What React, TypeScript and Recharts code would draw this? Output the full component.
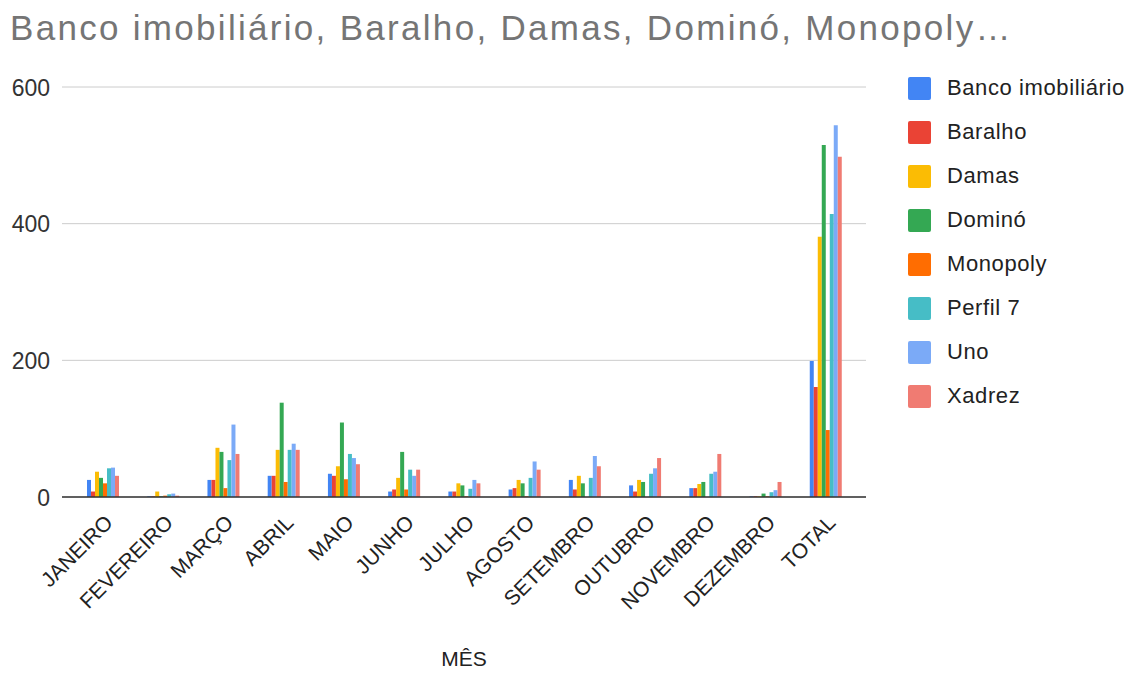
import React from 'react';
import {
  BarChart,
  Bar,
  XAxis,
  YAxis,
  CartesianGrid,
  Legend,
} from 'recharts';

const MONTHS = [
  'JANEIRO', 'FEVEREIRO', 'MARÇO', 'ABRIL', 'MAIO', 'JUNHO', 'JULHO',
  'AGOSTO', 'SETEMBRO', 'OUTUBRO', 'NOVEMBRO', 'DEZEMBRO', 'TOTAL',
];

const SERIES = [
  'Banco imobiliário', 'Baralho', 'Damas', 'Dominó',
  'Monopoly', 'Perfil 7', 'Uno', 'Xadrez',
];

const COLORS = [
  '#4285F4', '#EA4335', '#FBBC04', '#34A853',
  '#FF6D01', '#46BDC6', '#7BAAF7', '#F07B72',
];

// one array per series, month order, last value is TOTAL
const banco = [25, 1, 25, 31, 34, 8, 8, 11, 25, 17, 13, 1, 199];
const baralho = [8, 1, 25, 31, 31, 11, 8, 13, 11, 8, 13, 1, 161];
const damas = [37, 8, 72, 69, 45, 28, 20, 25, 31, 25, 19, 1, 381];
const domino = [28, 1, 66, 138, 109, 66, 17, 20, 20, 22, 22, 5, 515];
const monopoly = [20, 2, 13, 22, 26, 11, 1, 1, 0, 0, 0, 1, 98];
const perfil = [42, 4, 54, 69, 63, 40, 12, 28, 28, 34, 34, 7, 414];
const uno = [43, 5, 106, 78, 57, 31, 25, 52, 60, 42, 37, 10, 544];
const xadrez = [31, 2, 63, 69, 48, 40, 20, 40, 45, 57, 63, 22, 498];

const Y_TICKS = [0, 200, 400, 600];

const VALUES = [banco, baralho, damas, domino, monopoly, perfil, uno, xadrez];

const data = MONTHS.map((m, i) => {
  const row: Record<string, string | number> = { mes: m };
  SERIES.forEach((s, j) => {
    row[s] = VALUES[j][i];
  });
  return row;
});

const FONT = '"Liberation Sans", Arial, sans-serif';

function XTick(props: any) {
  const { x, payload } = props;
  const ax = x + 11;
  const ay = 524;
  return (
    <text
      x={ax}
      y={ay}
      textAnchor="end"
      fontSize={21}
      fontFamily={FONT}
      fill="#222"
      transform={`rotate(-45, ${ax}, ${ay})`}
    >
      {payload.value}
    </text>
  );
}

function YTick(props: any) {
  const { y, payload } = props;
  return (
    <text x={50} y={y + 8.5} textAnchor="end" fontSize={23} fontFamily={FONT} fill="#333">
      {payload.value}
    </text>
  );
}

function LegendBox() {
  return (
    <div style={{ fontFamily: FONT }}>
      {SERIES.map((s, i) => (
        <div key={s} style={{ display: 'flex', alignItems: 'center', height: 44 }}>
          <div
            style={{
              width: 23,
              height: 23,
              borderRadius: 2,
              background: COLORS[i],
              marginRight: 16,
              flexShrink: 0,
            }}
          />
          <span style={{ fontSize: 22, letterSpacing: 0.6, color: '#222', whiteSpace: 'nowrap' }}>
            {s}
          </span>
        </div>
      ))}
    </div>
  );
}

export default function App() {
  return (
    <div
      style={{
        position: 'absolute',
        left: 0,
        top: 0,
        width: 1130,
        height: 673,
        background: '#fff',
        overflow: 'hidden',
      }}
    >
      <div
        style={{
          position: 'absolute',
          left: 10,
          top: 10,
          fontFamily: FONT,
          fontSize: 35,
          letterSpacing: 2.3,
          lineHeight: '35px',
          color: '#757575',
          whiteSpace: 'nowrap',
        }}
      >
        Banco imobiliário, Baralho, Damas, Dominó, Monopoly…
      </div>
      <BarChart
        width={1130}
        height={673}
        data={data}
        margin={{ top: 87, right: 264, bottom: 6, left: 0 }}
        barCategoryGap={14}
        barGap={0}
      >
        <CartesianGrid vertical={false} stroke="#cccccc" />
        <XAxis
          dataKey="mes"
          height={170}
          interval={0}
          padding={{ left: 11, right: 10 }}
          tickLine={false}
          axisLine={{ stroke: '#333', strokeWidth: 1.5 }}
          tick={<XTick />}
          label={(p: any) => {
            const vb = p.viewBox;
            return (
              <text
                x={vb.x + vb.width / 2}
                y={666}
                textAnchor="middle"
                fontSize={21}
                fontFamily={FONT}
                fill="#222"
              >
                MÊS
              </text>
            );
          }}
        />
        <YAxis
          width={62}
          domain={[0, 600]}
          ticks={Y_TICKS}
          tickLine={false}
          axisLine={false}
          tick={<YTick />}
        />
        <Legend
          layout="vertical"
          align="center"
          verticalAlign="middle"
          content={<LegendBox />}
          wrapperStyle={{ left: 908, top: 66, width: 222 }}
        />
        {SERIES.map((s, i) => (
          <Bar key={s} dataKey={s} fill={COLORS[i]} isAnimationActive={false} />
        ))}
      </BarChart>
    </div>
  );
}
